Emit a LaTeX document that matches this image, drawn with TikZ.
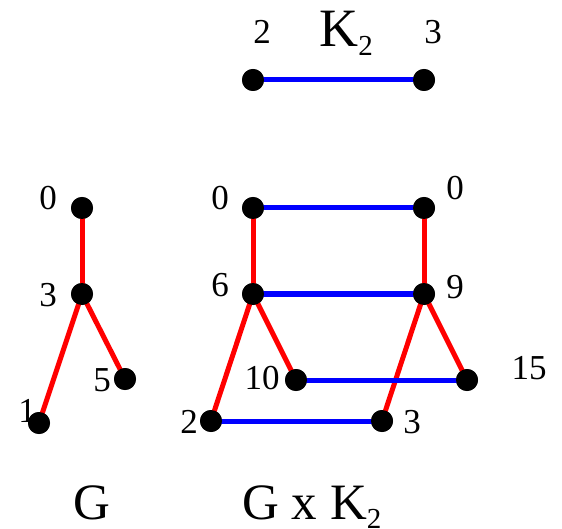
\documentclass[tikz,border=0pt]{standalone}
\usepackage{fontspec}
\setmainfont{Liberation Serif}
\begin{document}
\begin{tikzpicture}[x=1pt,y=-1pt,
  vtx/.style={circle,fill=black,inner sep=0pt,minimum size=22pt},
  lbl/.style={inner sep=0pt,font=\fontsize{35}{40}\selectfont},
  big/.style={inner sep=0pt,font=\fontsize{51}{56}\selectfont},
  redge/.style={red,line width=5pt},
  bedge/.style={blue,line width=5pt}]
\useasboundingbox (0,0) rectangle (562,529);
% K2
\node[vtx] (k2) at (253,80) {};
\node[vtx] (k3) at (424,80) {};
\node[lbl] (lk2) at (262,32) {2};
\node[lbl] (lk3) at (433,32) {3};
\node[big,anchor=base] (lK) at (346,47) {\fontsize{54}{58}\selectfont K\raisebox{-9pt}{\fontsize{29}{32}\selectfont 2}};
% G
\node[vtx] (g0) at (82,208) {};
\node[vtx] (g3) at (82,294) {};
\node[vtx] (g5) at (125,379) {};
\node[vtx] (g1) at (39,423) {};
\node[lbl] (lg0) at (48,198) {0};
\node[lbl] (lg3) at (48,295) {3};
\node[lbl] (lg5) at (102,380) {5};
\node[lbl] (lg1) at (27,411) {1};
% GxK2
\node[vtx] (a0) at (253,208) {};
\node[vtx] (b0) at (424,208) {};
\node[vtx] (a6) at (253,294) {};
\node[vtx] (b9) at (424,294) {};
\node[vtx] (a10) at (296,380) {};
\node[vtx] (b15) at (467,380) {};
\node[vtx] (a2) at (211,421) {};
\node[vtx] (b3) at (382,421) {};
\node[lbl] (la0) at (220,198) {0};
\node[lbl] (lb0) at (455,188) {0};
\node[lbl] (la6) at (220,285) {6};
\node[lbl] (lb9) at (455,287) {9};
\node[lbl] (la10) at (262,378) {10};
\node[lbl] (lb15) at (529,368) {15};
\node[lbl] (la2) at (189,422) {2};
\node[lbl] (lb3) at (412,422) {3};
% bottom labels
\node[big,anchor=base] (lG) at (92,519) {G};
\node[big,anchor=base west] (lGK) at (242,519) {G x K\raisebox{-9pt}{\fontsize{29}{32}\selectfont 2}};
% edges
\draw[bedge] (k2.center) -- (k3.center);
\draw[redge] (g0.center) -- (g3.center);
\draw[redge] (g3.center) -- (g5.center);
\draw[redge] (g3.center) -- (g1.center);
\draw[redge] (a0.center) -- (a6.center);
\draw[redge] (a6.center) -- (a10.center);
\draw[redge] (a6.center) -- (a2.center);
\draw[redge] (b0.center) -- (b9.center);
\draw[redge] (b9.center) -- (b15.center);
\draw[redge] (b9.center) -- (b3.center);
\draw[bedge] (a0.center) -- (b0.center);
\draw[bedge] (a6.center) -- (b9.center);
\draw[bedge] (a10.center) -- (b15.center);
\draw[bedge] (a2.center) -- (b3.center);
% redraw dots on top
\foreach \n in {k2,k3,g0,g3,g5,g1,a0,b0,a6,b9,a10,b15,a2,b3}
  \fill[black] (\n.center) circle (11pt);
\end{tikzpicture}
\end{document}
